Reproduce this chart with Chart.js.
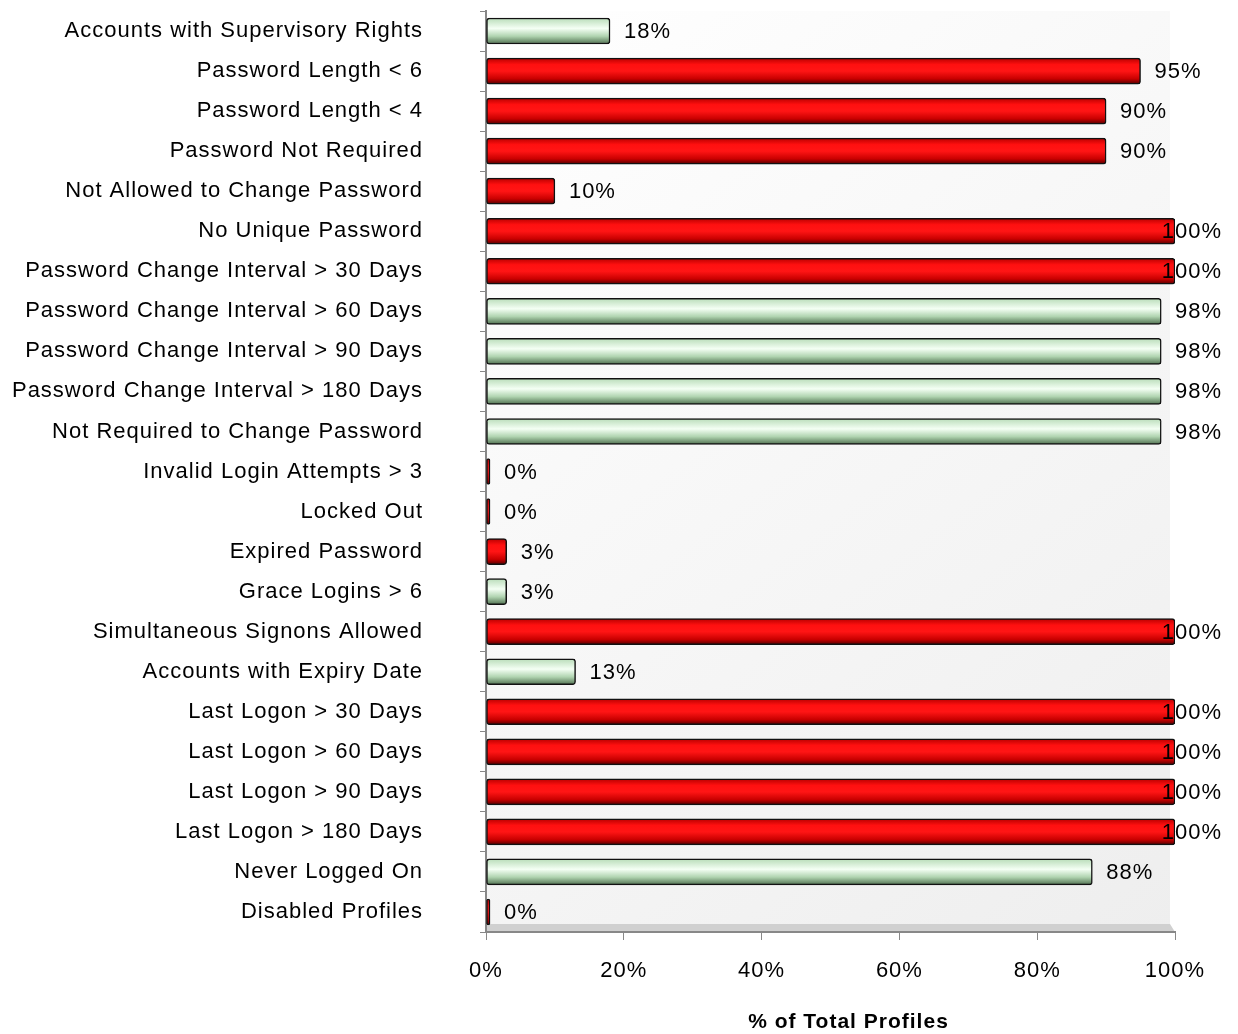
<!DOCTYPE html>
<html>
<head>
<meta charset="utf-8">
<script src="https://cdn.jsdelivr.net/npm/chart.js@4/dist/chart.umd.min.js"></script>
<style>
  body { margin: 0; background: #fff; }
  #wrap { width: 1238px; height: 1034px; }
</style>
</head>
<body>
<div id="wrap"><canvas id="chart"></canvas></div>
<script>
const categories = [
  'Accounts with Supervisory Rights',
  'Password Length < 6',
  'Password Length < 4',
  'Password Not Required',
  'Not Allowed to Change Password',
  'No Unique Password',
  'Password Change Interval > 30 Days',
  'Password Change Interval > 60 Days',
  'Password Change Interval > 90 Days',
  'Password Change Interval > 180 Days',
  'Not Required to Change Password',
  'Invalid Login Attempts > 3',
  'Locked Out',
  'Expired Password',
  'Grace Logins > 6',
  'Simultaneous Signons Allowed',
  'Accounts with Expiry Date',
  'Last Logon > 30 Days',
  'Last Logon > 60 Days',
  'Last Logon > 90 Days',
  'Last Logon > 180 Days',
  'Never Logged On',
  'Disabled Profiles'
];
const percentValues = [18, 95, 90, 90, 10, 100, 100, 98, 98, 98, 98, 0, 0, 3, 3, 100, 13, 100, 100, 100, 100, 88, 0];
// 'r' = red (risk), 'g' = green (ok)
const barStatus = ['g','r','r','r','r','r','r','g','g','g','g','r','r','r','g','r','g','r','r','r','r','g','r'];
const xTicks = [0, 20, 40, 60, 80, 100];
const axisTitle = '% of Total Profiles';

const BAR_H = 26;
const FONT = '"Liberation Sans", Arial, sans-serif';

function barFill(ctx) {
  const chart = ctx.chart;
  if (!chart.chartArea || ctx.dataIndex === undefined) return '#ff0000';
  const y = chart.scales.y.getPixelForValue(ctx.dataIndex);
  const g = chart.ctx.createLinearGradient(0, y - BAR_H / 2, 0, y + BAR_H / 2);
  if (barStatus[ctx.dataIndex] === 'r') {
    g.addColorStop(0, '#b80000');
    g.addColorStop(0.25, '#ff1010');
    g.addColorStop(0.5, '#ff1515');
    g.addColorStop(0.8, '#c80000');
    g.addColorStop(1, '#500000');
  } else {
    g.addColorStop(0, '#b8dcb8');
    g.addColorStop(0.4, '#f4fff4');
    g.addColorStop(0.7, '#b0d4b0');
    g.addColorStop(1, '#4f6f4f');
  }
  return g;
}

// the reference text is drawn slightly wide
const spacingPlugin = {
  id: 'spacing',
  beforeLayout(chart) { chart.ctx.letterSpacing = '1px'; },
  beforeDraw(chart) { chart.ctx.letterSpacing = '1px'; }
};

const wallPlugin = {
  id: 'wall',
  beforeDraw(chart) {
    const { ctx, chartArea: a } = chart;
    ctx.save();
    const g = ctx.createLinearGradient(a.left, a.top, a.right, a.bottom);
    g.addColorStop(0, '#ffffff');
    g.addColorStop(1, '#eeeeee');
    ctx.fillStyle = g;
    ctx.fillRect(a.left, a.top, a.right - a.left - 5, a.bottom - a.top - 8);
    // floor strip
    ctx.fillStyle = '#d0d0d0';
    ctx.beginPath();
    ctx.moveTo(a.left, a.bottom - 8);
    ctx.lineTo(a.right - 5, a.bottom - 8);
    ctx.lineTo(a.right, a.bottom);
    ctx.lineTo(a.left, a.bottom);
    ctx.closePath();
    ctx.fill();
    ctx.restore();
  }
};

const labelPlugin = {
  id: 'valueLabels',
  afterDatasetsDraw(chart) {
    const { ctx } = chart;
    const meta = chart.getDatasetMeta(0);
    const xs = chart.scales.x;
    const limit = xs.getPixelForValue(100) + 47;
    ctx.save();
    ctx.font = '22px ' + FONT;
    ctx.fillStyle = '#000';
    ctx.textBaseline = 'middle';
    ctx.textAlign = 'left';
    meta.data.forEach((bar, i) => {
      const txt = percentValues[i] + '%';
      const w = ctx.measureText(txt).width;
      let x = bar.x + 14;
      if (x + w > limit) x = limit - w;
      ctx.fillText(txt, x, bar.y + 1);
    });
    // axis title
    ctx.font = 'bold 21px ' + FONT;
    ctx.textAlign = 'center';
    ctx.fillText(axisTitle, (xs.left + xs.right) / 2 + 18, chart.height - 12);
    ctx.restore();
  }
};

new Chart(document.getElementById('chart'), {
  type: 'bar',
  data: {
    labels: categories,
    datasets: [{
      data: percentValues,
      backgroundColor: barFill,
      borderColor: '#111',
      borderWidth: 1.5,
      borderSkipped: false,
      borderRadius: 3,
      barThickness: BAR_H,
      minBarLength: 4
    }]
  },
  options: {
    indexAxis: 'y',
    responsive: true,
    maintainAspectRatio: false,
    animation: false,
    layout: { padding: { top: 11, right: 63, left: 0, bottom: 0 } },
    plugins: {
      legend: { display: false },
      tooltip: { enabled: false }
    },
    scales: {
      y: {
        afterFit(scale) {
          scale.width = 486;
          scale.paddingTop = 0;
          scale.paddingBottom = 0;
        },
        grid: {
          display: true,
          drawOnChartArea: false,
          offset: true,
          tickLength: 6,
          color: '#888'
        },
        border: { color: '#888', width: 2 },
        ticks: {
          padding: 57,
          color: '#000',
          autoSkip: false,
          font: { family: FONT, size: 22 }
        }
      },
      x: {
        min: 0,
        max: 100,
        afterBuildTicks(scale) { scale.ticks = xTicks.map(v => ({ value: v })); },
        afterFit(scale) { scale.height = 102; },
        grid: {
          drawOnChartArea: false,
          tickLength: 8,
          color: '#888'
        },
        border: { color: '#888', width: 2 },
        ticks: {
          padding: 18,
          color: '#000',
          maxRotation: 0,
          font: { family: FONT, size: 22 },
          callback: v => v + '%'
        }
      }
    }
  },
  plugins: [spacingPlugin, wallPlugin, labelPlugin]
});
</script>
</body>
</html>
